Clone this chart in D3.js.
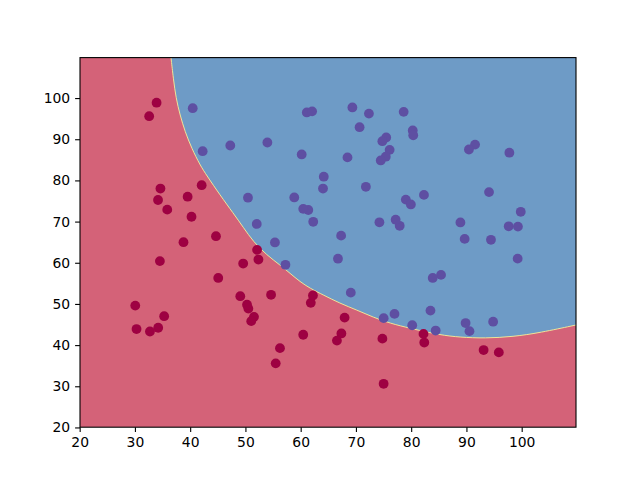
<!DOCTYPE html>
<html>
<head>
<meta charset="utf-8">
<script src="https://cdn.jsdelivr.net/npm/d3@7"></script>
<style>
    body { margin: 0; background: #ffffff; }
    .tick text { font-family: "DejaVu Sans", sans-serif; font-size: 13.9px; fill: #000; }
</style>
</head>
<body>
<div class="chart__container"></div>
<script>
//initialisation
const CHART__WIDTH = 640;
const CHART__HEIGHT = 480;

// exam scores and labels (0 = not admitted, 1 = admitted)
const EXAM_1 = [34.62, 30.29, 35.85, 60.18, 79.03, 45.08, 61.11, 75.02, 76.10, 84.43,
    95.86, 75.01, 82.31, 69.36, 39.54, 53.97, 69.07, 67.95, 70.66, 76.98,
    67.37, 89.68, 50.53, 34.21, 77.92, 62.27, 80.19, 93.11, 61.83, 38.79,
    61.38, 85.40, 52.11, 52.05, 40.24, 54.64, 33.92, 64.18, 74.79, 34.18,
    83.90, 51.55, 94.44, 82.37, 51.05, 62.22, 77.19, 97.77, 62.07, 91.56,
    79.94, 99.27, 90.55, 34.52, 50.29, 49.59, 97.65, 32.58, 74.25, 71.80,
    75.40, 35.29, 56.25, 30.06, 44.67, 66.56, 40.46, 49.07, 80.28, 66.75,
    32.72, 64.04, 72.35, 60.46, 58.84, 99.83, 47.26, 50.46, 60.46, 82.23,
    88.91, 94.83, 67.32, 57.24, 80.37, 68.47, 42.08, 75.48, 78.64, 52.35,
    94.09, 90.45, 55.48, 74.49, 89.85, 83.49, 42.26, 99.32, 55.34, 74.78];

const EXAM_2 = [78.02, 43.89, 72.90, 86.31, 75.34, 56.32, 96.51, 46.55, 87.42, 43.53,
    38.23, 30.60, 76.48, 97.72, 76.04, 89.21, 52.74, 46.68, 92.93, 47.58,
    42.84, 65.80, 48.86, 44.21, 68.97, 69.95, 44.82, 38.80, 50.26, 65.00,
    72.81, 57.05, 63.13, 69.43, 71.17, 52.21, 98.87, 80.91, 41.57, 75.24,
    56.31, 46.86, 65.57, 40.62, 45.82, 52.06, 70.46, 86.73, 96.77, 88.70,
    74.16, 61.00, 43.39, 60.40, 49.80, 59.81, 68.86, 95.60, 69.82, 78.45,
    85.76, 47.02, 39.26, 49.59, 66.45, 41.09, 97.54, 51.88, 92.12, 60.99,
    43.31, 78.03, 96.23, 73.09, 75.86, 72.37, 88.48, 75.81, 42.51, 42.72,
    69.80, 45.69, 66.59, 59.51, 90.96, 85.59, 78.84, 90.42, 96.65, 60.77,
    77.16, 87.51, 35.57, 84.85, 45.36, 48.38, 87.10, 68.78, 64.93, 89.53];

const ADMITTED = [0, 0, 0, 1, 1, 0, 1, 1, 1, 1,
    0, 0, 1, 1, 0, 1, 1, 0, 1, 1,
    0, 1, 0, 0, 1, 1, 1, 0, 0, 0,
    1, 1, 0, 1, 0, 0, 0, 1, 0, 0,
    1, 0, 1, 0, 0, 0, 1, 1, 1, 1,
    1, 1, 1, 0, 0, 0, 1, 0, 1, 1,
    1, 0, 0, 0, 0, 0, 1, 0, 1, 1,
    0, 1, 1, 1, 1, 1, 1, 1, 0, 0,
    1, 1, 1, 1, 1, 1, 0, 1, 1, 0,
    1, 1, 0, 1, 1, 1, 1, 1, 1, 1];

// decision boundary (upper right side = admitted)
const BOUNDARY_X = [36.53, 36.95, 37.44, 38.17, 39.07, 40.28, 41.78, 42.99, 45.40, 47.81,
    49.62, 51.43, 53.85, 56.26, 58.07, 59.88, 61.69, 64.09, 67.10, 70.14,
    73.14, 76.17, 79.79, 85.22, 88.84, 93.36, 98.48, 103.31, 109.83];
const BOUNDARY_Y = [109.83, 104.80, 99.94, 95.89, 91.83, 87.80, 83.74, 81.20, 76.46, 72.01,
    68.60, 65.11, 61.88, 59.46, 57.44, 55.40, 53.80, 52.17, 50.15, 48.53,
    46.75, 45.30, 44.08, 42.45, 41.90, 41.65, 42.04, 43.01, 44.88];

const X_DOMAIN = [20.06, 109.83];
const Y_DOMAIN = [20.06, 109.83];
const X_TICKS = [20, 30, 40, 50, 60, 70, 80, 90, 100];
const Y_TICKS = [20, 30, 40, 50, 60, 70, 80, 90, 100];

const MARGIN = {
    top: 57.6,
    right: 64,
    bottom: 52.8,
    left: 80
}

/*-----------------------------------scales-----------------------------------*/

const xScale = d3.scaleLinear().domain(X_DOMAIN).range([MARGIN.left, CHART__WIDTH - MARGIN.right]);
const yScale = d3.scaleLinear().domain(Y_DOMAIN).range([CHART__HEIGHT - MARGIN.bottom, MARGIN.top]);

/*-----------------------------------Create element-----------------------------------*/

const svg = d3.select(".chart__container").append("svg")
    .attr("width", CHART__WIDTH)
    .attr("height", CHART__HEIGHT);

svg.append("defs").append("clipPath").attr("id", "plot-clip")
    .append("rect")
    .attr("x", MARGIN.left)
    .attr("y", MARGIN.top)
    .attr("width", CHART__WIDTH - MARGIN.left - MARGIN.right)
    .attr("height", CHART__HEIGHT - MARGIN.top - MARGIN.bottom);

const plot = svg.append("g").attr("clip-path", "url(#plot-clip)");

//red region = whole plot area
plot.append("rect")
    .attr("x", xScale(X_DOMAIN[0]))
    .attr("y", yScale(Y_DOMAIN[1]))
    .attr("width", xScale(X_DOMAIN[1]) - xScale(X_DOMAIN[0]))
    .attr("height", yScale(Y_DOMAIN[0]) - yScale(Y_DOMAIN[1]))
    .attr("fill", "#d46278");

//blue region, boundary then back along the top right corner
const boundary = BOUNDARY_X.map((x, i) => [x, BOUNDARY_Y[i]]);
const curve = d3.line()
    .x(d => xScale(d[0]))
    .y(d => yScale(d[1]))
    .curve(d3.curveBasis);

const corner = `L${xScale(X_DOMAIN[1])},${yScale(Y_DOMAIN[1])}Z`;
plot.append("path")
    .attr("d", curve(boundary) + corner)
    .attr("fill", "#6e9bc6");

plot.append("path")
    .attr("d", curve(boundary))
    .attr("fill", "none")
    .attr("stroke", "#f4f09a")
    .attr("stroke-width", 0.9);

//scatter points
const points = EXAM_1.map((x, i) => ({ x: x, y: EXAM_2[i], label: ADMITTED[i] }));

plot.selectAll(".dot")
    .data(points)
    .enter()
    .append("circle")
    .attr("class", "dot")
    .attr("r", 4.9)
    .attr("cx", d => xScale(d.x))
    .attr("cy", d => yScale(d.y))
    .attr("fill", d => d.label ? "#5e4fa2" : "#9e0142");

//axes
const xAxis = svg.append("g")
    .attr("transform", `translate(0,${CHART__HEIGHT - MARGIN.bottom})`)
    .call(d3.axisBottom(xScale).tickValues(X_TICKS).tickSize(4.9).tickPadding(4.9).tickFormat(d3.format("d")));

const yAxis = svg.append("g")
    .attr("transform", `translate(${MARGIN.left},0)`)
    .call(d3.axisLeft(yScale).tickValues(Y_TICKS).tickSize(4.9).tickPadding(4.9).tickFormat(d3.format("d")));

svg.selectAll(".domain").remove();
svg.selectAll(".tick line").attr("stroke", "#000").attr("stroke-width", 1.1);

//frame
svg.append("rect")
    .attr("x", MARGIN.left)
    .attr("y", MARGIN.top)
    .attr("width", CHART__WIDTH - MARGIN.left - MARGIN.right)
    .attr("height", CHART__HEIGHT - MARGIN.top - MARGIN.bottom)
    .attr("fill", "none")
    .attr("stroke", "#000")
    .attr("stroke-width", 1.1);
</script>
</body>
</html>
